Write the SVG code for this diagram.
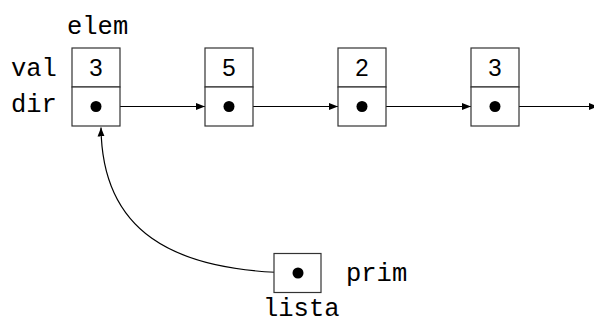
<svg xmlns="http://www.w3.org/2000/svg" width="594" height="325" viewBox="0 0 594 325">
<style>
.box{fill:#fff;stroke:#333;stroke-width:1.2}
.dot{fill:#000}
.lbl{font-family:"Liberation Mono","DejaVu Sans Mono",monospace;font-size:25.5px;fill:#000}
.num{font-family:"Liberation Sans",Arial,sans-serif;font-size:24px;fill:#000;text-anchor:middle}
.ln{stroke:#000;stroke-width:1.2;fill:none}
</style>
<defs>
<marker id="ah" markerWidth="10" markerHeight="8" refX="9" refY="4" orient="auto" markerUnits="userSpaceOnUse">
<path d="M0,0.5 L9,4 L0,7.5 Z" fill="#000"/>
</marker>
</defs>
<g id="labels">
<text class="lbl" x="67" y="34">elem</text>
<text class="lbl" x="11" y="76">val</text>
<text class="lbl" x="11" y="112">dir</text>
</g>
<g id="connectors">
<line class="ln" x1="96" y1="106.5" x2="205" y2="106.5" marker-end="url(#ah)"/>
<line class="ln" x1="229" y1="106.5" x2="338" y2="106.5" marker-end="url(#ah)"/>
<line class="ln" x1="362" y1="106.5" x2="471" y2="106.5" marker-end="url(#ah)"/>
<line class="ln" x1="495" y1="106.5" x2="598" y2="106.5" marker-end="url(#ah)"/>
<path class="ln" d="M298,273 C170,272 102,230 101,127.5" marker-end="url(#ah)"/>
</g>
<g id="node1">
<rect class="box" x="72" y="48" width="48" height="39"/>
<rect class="box" x="72" y="87" width="48" height="39"/>
<text class="num" x="96" y="76">3</text>
<circle class="dot" cx="96" cy="106.5" r="5.5"/>
</g>
<g id="node2">
<rect class="box" x="205" y="48" width="48" height="39"/>
<rect class="box" x="205" y="87" width="48" height="39"/>
<text class="num" x="229" y="76">5</text>
<circle class="dot" cx="229" cy="106.5" r="5.5"/>
</g>
<g id="node3">
<rect class="box" x="338" y="48" width="48" height="39"/>
<rect class="box" x="338" y="87" width="48" height="39"/>
<text class="num" x="362" y="76">2</text>
<circle class="dot" cx="362" cy="106.5" r="5.5"/>
</g>
<g id="node4">
<rect class="box" x="471" y="48" width="48" height="39"/>
<rect class="box" x="471" y="87" width="48" height="39"/>
<text class="num" x="495" y="76">3</text>
<circle class="dot" cx="495" cy="106.5" r="5.5"/>
</g>
<g id="lista">
<rect class="box" x="274" y="253.5" width="47" height="39"/>
<circle class="dot" cx="298" cy="273" r="5.5"/>
<text class="lbl" x="346" y="281">prim</text>
<text class="lbl" x="263" y="316">lista</text>
</g>
</svg>
